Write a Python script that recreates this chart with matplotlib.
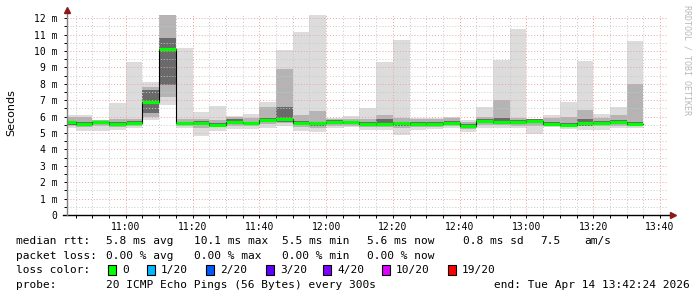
import matplotlib
matplotlib.use("Agg")
import matplotlib.pyplot as plt
from matplotlib.patches import Rectangle
import numpy as np
import pandas as pd

# 5 minute bins (start times), 20 pings each
bins = pd.date_range("2026-04-14 10:40", periods=35, freq="5min")

# median rtt (ms)
rtt_med = [5.65, 5.56, 5.70, 5.57, 5.62, 6.90, 10.13, 5.62, 5.62, 5.52,
           5.67, 5.60, 5.79, 5.83, 5.62, 5.60, 5.68, 5.66, 5.58, 5.54,
           5.60, 5.55, 5.54, 5.62, 5.44, 5.75, 5.70, 5.68, 5.75, 5.58,
           5.52, 5.60, 5.64, 5.68, 5.58]
# smoke: full range of the pings
rtt_min = [5.28, 5.15, 5.13, 5.20, 5.28, 5.80, 6.70, 5.28, 4.83, 5.13,
           5.25, 5.25, 5.30, 5.40, 5.15, 5.05, 5.30, 5.35, 5.18, 5.20,
           4.87, 5.20, 5.25, 5.30, 5.07, 5.30, 5.30, 5.30, 4.97, 5.35,
           5.24, 5.20, 5.20, 5.30, 5.30]
rtt_max = [6.10, 6.10, 5.80, 6.84, 9.32, 8.14, 12.40, 10.20, 6.30, 6.64,
           6.03, 6.15, 6.90, 10.05, 11.16, 12.30, 5.90, 6.03, 6.54, 9.34,
           10.66, 5.89, 5.89, 5.95, 5.79, 6.57, 9.44, 11.33, 5.85, 6.09,
           6.90, 9.40, 6.15, 6.60, 10.60]
# inner smoke bands
band2_lo = [5.40, 5.35, 5.40, 5.35, 5.40, 6.00, 7.20, 5.40, 5.30, 5.35,
            5.45, 5.40, 5.55, 5.60, 5.35, 5.30, 5.45, 5.45, 5.35, 5.35,
            5.30, 5.35, 5.35, 5.45, 5.25, 5.50, 5.50, 5.45, 5.40, 5.45,
            5.35, 5.40, 5.40, 5.45, 5.45]
band2_hi = [5.95, 5.95, 5.78, 5.85, 5.85, 7.80, 12.40, 5.85, 5.85, 5.80,
            5.95, 5.90, 6.60, 8.93, 6.10, 6.35, 5.85, 5.85, 5.85, 6.10,
            5.90, 5.85, 5.85, 5.90, 5.70, 6.00, 7.00, 5.90, 5.85, 5.90,
            6.00, 6.40, 5.90, 6.10, 8.00]
band3_lo = [5.50, 5.45, 5.55, 5.45, 5.50, 6.20, 7.90, 5.50, 5.50, 5.40,
            5.55, 5.50, 5.65, 5.65, 5.50, 5.45, 5.55, 5.55, 5.45, 5.40,
            5.45, 5.45, 5.42, 5.50, 5.33, 5.60, 5.58, 5.55, 5.62, 5.45,
            5.40, 5.45, 5.52, 5.55, 5.45]
band3_hi = [5.75, 5.70, 5.75, 5.70, 5.72, 7.60, 10.80, 5.70, 5.72, 5.62,
            5.85, 5.70, 5.90, 6.60, 5.72, 5.70, 5.78, 5.75, 5.70, 5.85,
            5.70, 5.68, 5.65, 5.72, 5.55, 5.85, 5.90, 5.78, 5.85, 5.68,
            5.62, 5.85, 5.75, 5.78, 5.68]

loss_labels = ["0", "1/20", "2/20", "3/20", "4/20", "10/20", "19/20"]
loss_colors = ["#00ff00", "#00b8ff", "#0059ff", "#5e00ff", "#7e00ff", "#dd00ff", "#ff0000"]

W, H = 697, 297
fig = plt.figure(figsize=(W / 100, H / 100), dpi=100)
fig.patch.set_facecolor("white")
ax = fig.add_axes([67 / W, 1 - 215 / H, (668 - 67) / W, (215 - 15) / H])

t = (bins.hour * 60 + bins.minute).to_numpy()
lo = np.array(rtt_min); hi = np.array(rtt_max)
b2l = np.array(band2_lo); b2h = np.array(band2_hi)
b3l = np.array(band3_lo); b3h = np.array(band3_hi)
med = np.array(rtt_med)

# smoke
ax.bar(t, hi - lo, bottom=lo, width=5, align="edge", color="#dcdcdc", linewidth=0, zorder=1)
ax.bar(t, b2h - b2l, bottom=b2l, width=5, align="edge", color="#b4b4b4", linewidth=0, zorder=1.1)
ax.bar(t, b3h - b3l, bottom=b3l, width=5, align="edge", color="#6a6a6a", linewidth=0, zorder=1.2)

xmin, xmax = 642.4, 822.4
ax.set_xlim(xmin, xmax)
ax.set_ylim(0, 12.2)

# grid drawn by hand so it sits above the smoke
for y in np.arange(0.5, 12.2, 0.5):
    if y % 1 == 0:
        ax.axhline(y, color="#f0a0a0", lw=0.7, ls=(0, (1, 2)), zorder=2)
    else:
        ax.axhline(y, color="#c8c8c8", lw=0.7, ls=(0, (1, 2)), zorder=2)
for x in np.arange(645, 823, 5):
    if (x - 660) % 20 == 0:
        ax.axvline(x, color="#f0a0a0", lw=0.7, ls=(0, (1, 2)), zorder=2)
    else:
        ax.axvline(x, color="#c8c8c8", lw=0.7, ls=(0, (1, 2)), zorder=2)

# median: black step + green segments
tt = np.append(t, t[-1] + 5)
ax.step(tt, np.append(med, med[-1]), where="post", color="black", lw=0.8, zorder=3)
ax.hlines(med, t, t + 5, colors="#00ff00", lw=2.3, zorder=4)

# axes
for s in ax.spines.values():
    s.set_visible(False)
ax.plot([-0.007, 1.008], [0, 0], transform=ax.transAxes, color="black", lw=1, clip_on=False, zorder=5)
ax.plot([0, 0], [0, 1.02], transform=ax.transAxes, color="#808080", lw=1, clip_on=False, zorder=5)
ax.plot([1.008], [0], marker=">", ms=4, color="#8b1a1a", transform=ax.transAxes, clip_on=False, zorder=6)
ax.plot([0], [1.025], marker="^", ms=4, color="#8b1a1a", transform=ax.transAxes, clip_on=False, zorder=6)

major_x = np.arange(660, 821, 20)
ax.set_xticks(major_x)
ax.set_xticklabels(["%d:%02d" % (m // 60, m % 60) for m in major_x])
ax.set_xticks(np.arange(645, 823, 5), minor=True)
ax.set_yticks(range(0, 13))
ax.set_yticklabels(["0"] + ["%d m" % v for v in range(1, 13)])
ax.set_yticks(np.arange(0.5, 12.2, 1), minor=True)
ax.tick_params(axis="both", which="both", length=2, width=0.7, color="black",
               labelsize=7, pad=3, labelfontfamily="DejaVu Sans Mono")
ax.tick_params(axis="y", which="major", pad=5)

fig.text(11 / W, 1 - 113 / H, "Seconds", rotation=90, ha="center", va="center",
         fontsize=8, family="DejaVu Sans")
fig.text(687 / W, 1 - 5 / H, "RRDTOOL / TOBI OETIKER", rotation=270, ha="center", va="top",
         fontsize=6, family="DejaVu Sans Mono", color="#b8b8b8")

# legend text
mono = dict(fontsize=8, family="DejaVu Sans Mono", va="center")
def put(x, y, s, **kw):
    fig.text(x / W, 1 - y / H, s, **mono, **kw)

y1, y2, y3, y4 = 241, 256, 270, 285
put(16, y1, "median rtt:")
put(106, y1, "5.8 ms avg")
put(194, y1, "10.1 ms max")
put(282, y1, "5.5 ms min")
put(367, y1, "5.6 ms now")
put(463, y1, "0.8 ms sd")
put(540, y1, "7.5")
put(584, y1, "am/s")

put(16, y2, "packet loss:")
put(106, y2, "0.00 % avg")
put(194, y2, "0.00 % max")
put(282, y2, "0.00 % min")
put(367, y2, "0.00 % now")

put(16, y3, "loss color:")
box_x = [108, 147, 206, 266, 323, 382, 448]
for bx, lab, col in zip(box_x, loss_labels, loss_colors):
    fig.patches.append(Rectangle((bx / W, 1 - (y3 + 5) / H), 8 / W, 10 / H,
                                 transform=fig.transFigure, facecolor=col,
                                 edgecolor="black", lw=0.8))
    put(bx + 14, y3, lab)

put(16, y4, "probe:")
put(106, y4, "20 ICMP Echo Pings (56 Bytes) every 300s")
put(690, y4, "end: Tue Apr 14 13:42:24 2026", ha="right")

fig.savefig("out.png", dpi=100, facecolor="white")
